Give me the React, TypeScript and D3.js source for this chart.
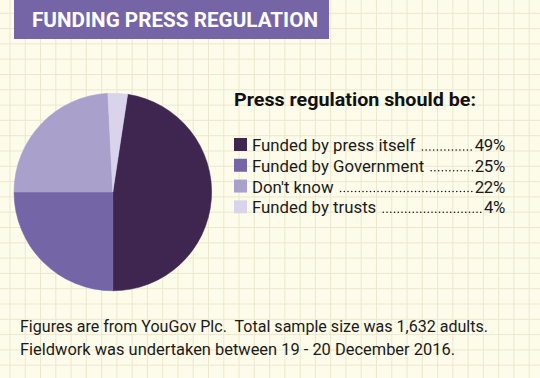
import React, { useEffect, useRef } from "react";
import * as d3 from "d3";

const W = 540;
const H = 378;

const title = "FUNDING PRESS REGULATION";
const heading = "Press regulation should be:";
const categories = ["Funded by press itself", "Funded by Government", "Don't know", "Funded by trusts"];
const percentLabels = ["49%", "25%", "22%", "4%"];
// slice shares as drawn in the picture (degrees converted to % of circle)
const sliceShares = [47.6, 25, 24.2, 3.2];
const colors = ["#3e2650", "#7465a6", "#a9a1cc", "#d9d4eb"];
const footnotes = [
  "Figures are from YouGov Plc.  Total sample size was 1,632 adults.",
  "Fieldwork was undertaken between 19 - 20 December 2016.",
];

const FONT = "Roboto, 'Liberation Sans', sans-serif";

export default function App() {
  const ref = useRef<SVGSVGElement | null>(null);

  useEffect(() => {
    const svg = d3.select(ref.current);
    svg.selectAll("*").remove();

    // background
    svg.append("rect").attr("width", W).attr("height", H).attr("fill", "#fdfbe9");
    const grid = svg.append("g").attr("stroke", "#ece8cf").attr("stroke-width", 1);
    const gx = d3.range(10, W, 15.27);
    const gy = d3.range(-2, H, 15.3);
    grid.selectAll("line.v").data(gx).join("line").attr("class", "v")
      .attr("x1", (d) => d).attr("x2", (d) => d).attr("y1", 0).attr("y2", H);
    grid.selectAll("line.h").data(gy).join("line").attr("class", "h")
      .attr("y1", (d) => d).attr("y2", (d) => d).attr("x1", 0).attr("x2", W);

    // title bar
    svg.append("rect").attr("x", 14).attr("y", 0).attr("width", 315).attr("height", 39).attr("fill", "#7565a7");
    svg.append("text").text(title).attr("x", 32).attr("y", 27)
      .attr("font-family", FONT).attr("font-weight", 700).attr("font-size", 19.7)
      .attr("fill", "#ffffff").attr("textLength", 286).attr("lengthAdjust", "spacingAndGlyphs");

    // pie
    const total = d3.sum(sliceShares);
    const start = Math.PI - (2 * Math.PI * sliceShares[0]) / total;
    const pie = d3.pie<number>().sort(null).value((d) => d).startAngle(start).endAngle(start + 2 * Math.PI);
    const arc = d3.arc<d3.PieArcDatum<number>>().innerRadius(0).outerRadius(98.8);
    const pg = svg.append("g").attr("transform", "translate(112.8,192)");
    pg.selectAll("path").data(pie(sliceShares)).join("path")
      .attr("d", arc as any).attr("fill", (_d, i) => colors[i])
      .attr("stroke", (_d, i) => colors[i]).attr("stroke-width", 0.5);

    // legend heading
    svg.append("text").text(heading).attr("x", 234).attr("y", 105.5)
      .attr("font-family", FONT).attr("font-weight", 700).attr("font-size", 17.5)
      .attr("fill", "#111").attr("textLength", 242).attr("lengthAdjust", "spacingAndGlyphs");

    const rowY = d3.scaleLinear().domain([0, 3]).range([151, 213.3]);
    const lg = svg.append("g");
    categories.forEach((c, i) => {
      const y = rowY(i);
      lg.append("rect").attr("x", 234).attr("y", y - 13).attr("width", 13).attr("height", 13).attr("fill", colors[i]);
      const t = lg.append("text").text(c).attr("x", 252).attr("y", y)
        .attr("font-family", FONT).attr("font-size", 16.8).attr("fill", "#1a1a1a");
      const p = lg.append("text").text(percentLabels[i]).attr("x", 505).attr("y", y)
        .attr("text-anchor", "end").attr("font-family", FONT).attr("font-size", 16.8)
        .attr("fill", "#1a1a1a").attr("letter-spacing", -0.3);
      const lw = (t.node() as SVGTextElement).getComputedTextLength();
      const pw = (p.node() as SVGTextElement).getComputedTextLength();
      const x1 = 252 + lw + 7;
      const x2 = 505 - pw - 2;
      lg.append("line").attr("x1", x1).attr("x2", x2).attr("y1", y - 1).attr("y2", y - 1)
        .attr("stroke", "#1a1a1a").attr("stroke-width", 1.6).attr("stroke-linecap", "round")
        .attr("stroke-dasharray", "0 3.75");
    });

    // footnotes
    const fw = [468, 435];
    footnotes.forEach((f, i) => {
      svg.append("text").text(f).attr("x", 20).attr("y", 332.3 + i * 22.7)
        .attr("xml:space", "preserve").style("white-space", "pre")
        .attr("font-family", FONT).attr("font-size", 16.5).attr("fill", "#1a1a1a")
        .attr("textLength", fw[i]).attr("lengthAdjust", "spacingAndGlyphs");
    });
  }, []);

  return (
    <svg ref={ref} width={W} height={H} style={{ position: "absolute", left: 0, top: 0, display: "block" }} />
  );
}
